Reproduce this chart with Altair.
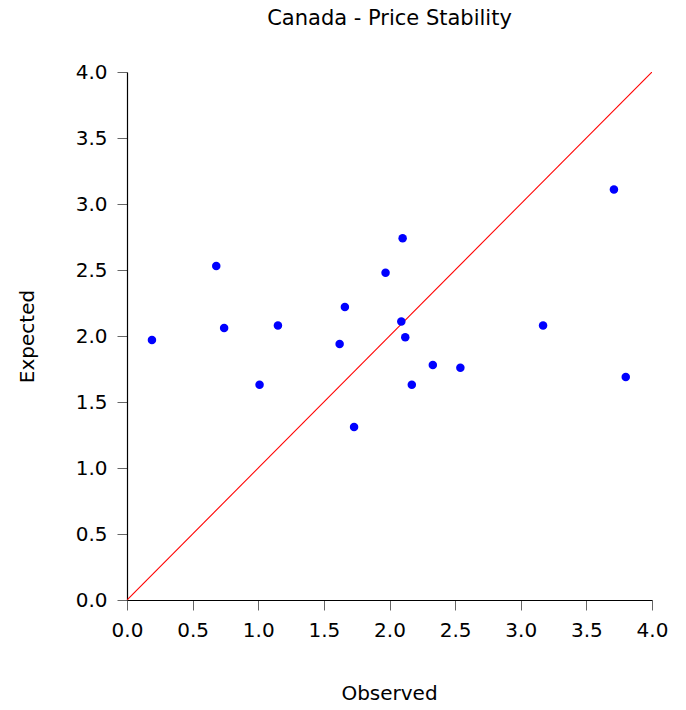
import altair as alt
import pandas as pd

observed = [0.19, 0.68, 0.74, 1.01, 1.15, 1.62, 1.66, 1.73, 1.97, 2.10, 2.09, 2.12, 2.17, 2.33, 2.54, 3.17, 3.71, 3.80]
expected = [1.97, 2.53, 2.06, 1.63, 2.08, 1.94, 2.22, 1.31, 2.48, 2.74, 2.11, 1.99, 1.63, 1.78, 1.76, 2.08, 3.11, 1.69]
line_x = [0.0, 4.0]
line_y = [0.0, 4.0]
tick_values = [0.0, 0.5, 1.0, 1.5, 2.0, 2.5, 3.0, 3.5, 4.0]

FONT = "DejaVu Sans"

pts = pd.DataFrame({"Observed": observed, "Expected": expected})
ref = pd.DataFrame({"Observed": line_x, "Expected": line_y})

xscale = alt.Scale(domain=[0, 4], nice=False, zero=True)
yscale = alt.Scale(domain=[0, 4], nice=False, zero=True)

xaxis = alt.Axis(
    values=tick_values, format=".1f", grid=False,
    domainColor="black", domainWidth=1.2,
    tickColor="#666666", tickSize=10, tickWidth=1,
    labelFont=FONT, labelFontSize=20, labelColor="black",
    labelBaseline="alphabetic", labelPadding=26,
    title="Observed", titleFont=FONT, titleFontSize=20, titleFontWeight="normal",
    titleColor="black", titleBaseline="alphabetic", titleX=262, titleY=99,
    titleAnchor="middle", labelFlush=False,
)
yaxis = alt.Axis(
    values=tick_values, format=".1f", grid=False,
    domainColor="black", domainWidth=1.2,
    tickColor="#666666", tickSize=10, tickWidth=1,
    labelFont=FONT, labelFontSize=20, labelColor="black",
    labelPadding=10, labelFlush=False,
    title="Expected", titleFont=FONT, titleFontSize=20, titleFontWeight="normal",
    titleColor="black", titleBaseline="alphabetic", titleAngle=270,
    titleX=-94, titleY=264, titleAnchor="middle",
)

line = alt.Chart(ref).mark_line(color="#FF0000", strokeWidth=1.1, clip=True).encode(
    x=alt.X("Observed:Q", scale=xscale, axis=xaxis),
    y=alt.Y("Expected:Q", scale=yscale, axis=yaxis),
)

points = alt.Chart(pts).mark_circle(color="#0000FF", opacity=1, size=72).encode(
    x=alt.X("Observed:Q", scale=xscale),
    y=alt.Y("Expected:Q", scale=yscale),
)

chart = (
    alt.layer(line, points)
    .properties(
        width=525,
        height=528,
        title=alt.TitleParams(
            "Canada - Price Stability", font=FONT, fontSize=21, fontWeight="normal",
            color="black", anchor="middle", baseline="bottom", offset=12,
        ),
        padding={"left": 127, "top": 72, "right": 34, "bottom": 110},
        autosize="none",
    )
    .configure_view(strokeWidth=0, stroke="transparent")
)

chart.save("out.html", embed_options={"renderer": "svg", "actions": False})
